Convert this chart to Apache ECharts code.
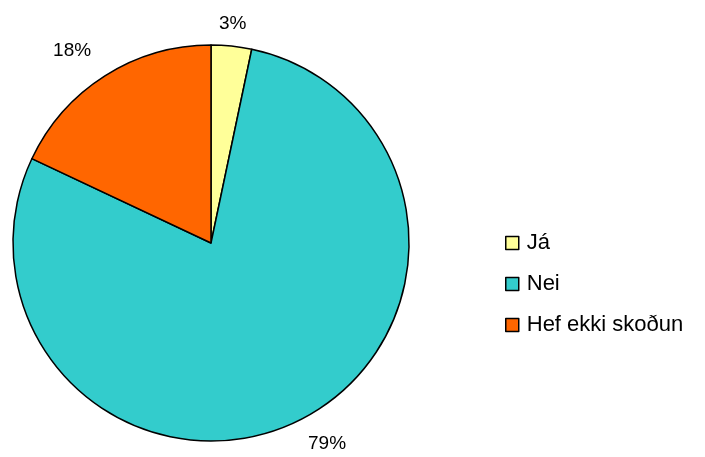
<!DOCTYPE html>
<html>
<head>
<meta charset="utf-8">
<script src="https://cdn.jsdelivr.net/npm/echarts@6/dist/echarts.min.js"></script>
<style>
  html, body { margin: 0; padding: 0; background: #fff; }
  #chart { width: 705px; height: 457px; }
</style>
</head>
<body>
<div id="chart"></div>
<script>
// svör
var categories = ['Já', 'Nei', 'Hef ekki skoðun'];
var values = [3.3, 78.7, 18.0];
var colors = ['#ffff99', '#33cccc', '#ff6600'];

var chart = echarts.init(document.getElementById('chart'));

var pieData = categories.map(function (name, i) {
  return { name: name, value: values[i], itemStyle: { color: colors[i] } };
});

var option = {
  backgroundColor: '#ffffff',
  animation: false,
  legend: {
    orient: 'vertical',
    left: 500,
    top: 227,
    icon: 'rect',
    itemWidth: 13,
    itemHeight: 13,
    itemGap: 19,
    data: categories,
    itemStyle: { borderColor: '#000', borderWidth: 1.5 },
    textStyle: {
      fontFamily: 'Liberation Sans, Arial, sans-serif',
      fontSize: 22,
      lineHeight: 22,
      color: '#000',
      padding: [0, 0, 0, 3]
    }
  },
  series: [{
    type: 'pie',
    center: [211, 243],
    radius: [0, 198],
    startAngle: 90,
    clockwise: true,
    avoidLabelOverlap: false,
    itemStyle: { borderColor: '#000', borderWidth: 1.5 },
    emphasis: { disabled: true },
    label: {
      show: true,
      position: 'outside',
      fontFamily: 'Liberation Sans, Arial, sans-serif',
      fontSize: 19,
      color: '#000',
      formatter: function (p) { return Math.round(p.value) + '%'; }
    },
    labelLine: { show: false, length: 22, length2: 0 },
    labelLayout: function (p) {
      // litla sneiðin: miðja merkið yfir henni
      if (p.dataIndex === 0) return { align: 'center', dx: -6 };
      if (p.dataIndex === 1) return { dx: -6, dy: 4 };
      return { dx: 3, dy: -6 };
    },
    data: pieData
  }]
};

chart.setOption(option);
</script>
</body>
</html>
